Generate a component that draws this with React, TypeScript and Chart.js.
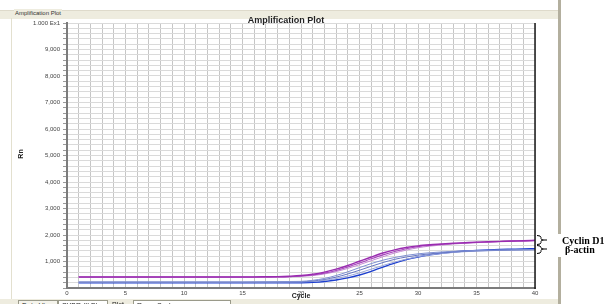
import React, { useEffect, useRef } from "react";
import { Chart, registerables } from "chart.js";

Chart.register(...registerables);

// ---- data (Rn values per cycle) ----
const cycles = [1, 2, 3, 4, 5, 6, 7, 8, 9, 10, 11, 12, 13, 14, 15, 16, 17, 18, 19, 20, 21, 22, 23, 24, 25, 26, 27, 28, 29, 30, 31, 32, 33, 34, 35, 36, 37, 38, 39, 40];

const cyclinD1_1 = [0.42, 0.42, 0.42, 0.42, 0.42, 0.42, 0.42, 0.42, 0.42, 0.42, 0.42, 0.42, 0.42, 0.42, 0.42, 0.42, 0.425, 0.43, 0.445, 0.47, 0.52, 0.6, 0.71, 0.85, 1.01, 1.17, 1.32, 1.44, 1.53, 1.59, 1.63, 1.66, 1.69, 1.71, 1.73, 1.745, 1.76, 1.775, 1.785, 1.8];
const cyclinD1_2 = [0.41, 0.41, 0.41, 0.41, 0.41, 0.41, 0.41, 0.41, 0.41, 0.41, 0.41, 0.41, 0.41, 0.41, 0.41, 0.41, 0.415, 0.42, 0.43, 0.45, 0.49, 0.56, 0.66, 0.79, 0.94, 1.1, 1.25, 1.38, 1.48, 1.56, 1.61, 1.65, 1.68, 1.7, 1.72, 1.74, 1.755, 1.77, 1.78, 1.79];
const cyclinD1_3 = [0.4, 0.4, 0.4, 0.4, 0.4, 0.4, 0.4, 0.4, 0.4, 0.4, 0.4, 0.4, 0.4, 0.4, 0.4, 0.4, 0.405, 0.41, 0.42, 0.44, 0.47, 0.53, 0.62, 0.74, 0.88, 1.03, 1.18, 1.32, 1.43, 1.52, 1.58, 1.62, 1.66, 1.69, 1.71, 1.73, 1.745, 1.76, 1.77, 1.78];

const bActin_1 = [0.23, 0.23, 0.23, 0.23, 0.23, 0.23, 0.23, 0.23, 0.23, 0.23, 0.23, 0.23, 0.23, 0.23, 0.23, 0.235, 0.235, 0.24, 0.245, 0.25, 0.29, 0.36, 0.47, 0.61, 0.77, 0.92, 1.05, 1.15, 1.23, 1.29, 1.33, 1.36, 1.385, 1.4, 1.415, 1.425, 1.435, 1.44, 1.445, 1.45];
const bActin_2 = [0.22, 0.22, 0.22, 0.22, 0.22, 0.22, 0.22, 0.22, 0.22, 0.22, 0.22, 0.22, 0.22, 0.22, 0.22, 0.22, 0.225, 0.225, 0.23, 0.235, 0.265, 0.32, 0.41, 0.53, 0.67, 0.82, 0.96, 1.08, 1.17, 1.24, 1.29, 1.33, 1.36, 1.385, 1.4, 1.415, 1.425, 1.435, 1.44, 1.445];
const bActin_3 = [0.21, 0.21, 0.21, 0.21, 0.21, 0.21, 0.21, 0.21, 0.21, 0.21, 0.21, 0.21, 0.21, 0.21, 0.21, 0.21, 0.215, 0.215, 0.22, 0.225, 0.245, 0.285, 0.355, 0.45, 0.57, 0.71, 0.85, 0.98, 1.09, 1.18, 1.25, 1.3, 1.34, 1.37, 1.39, 1.405, 1.42, 1.43, 1.44, 1.445];
const bActin_4 = [0.2, 0.2, 0.2, 0.2, 0.2, 0.2, 0.2, 0.2, 0.2, 0.2, 0.2, 0.2, 0.2, 0.2, 0.2, 0.2, 0.2, 0.2, 0.2, 0.2, 0.215, 0.245, 0.3, 0.38, 0.49, 0.63, 0.79, 0.94, 1.07, 1.17, 1.25, 1.31, 1.36, 1.395, 1.42, 1.44, 1.455, 1.465, 1.475, 1.48];

const yTickValues = [1, 2, 3, 4, 5, 6, 7, 8, 9, 10];
const yTickLabels = ["1,000", "2,000", "3,000", "4,000", "5,000", "6,000", "7,000", "8,000", "9,000", "1.000 Ex1"];
const xTickValues = [0, 5, 10, 15, 20, 25, 30, 35, 40];

const seriesList = [
  { name: "Cyclin D1 a", values: cyclinD1_1, color: "#9a2cb0", width: 1.4 },
  { name: "Cyclin D1 b", values: cyclinD1_2, color: "#a845bd", width: 1.1 },
  { name: "Cyclin D1 c", values: cyclinD1_3, color: "#c58ad3", width: 1 },
  { name: "beta-actin a", values: bActin_1, color: "#7f90d2", width: 1 },
  { name: "beta-actin b", values: bActin_2, color: "#6676c2", width: 1 },
  { name: "beta-actin c", values: bActin_3, color: "#9aa6da", width: 1 },
  { name: "beta-actin d", values: bActin_4, color: "#1c3ed0", width: 1.4 },
];

const rightBorder = {
  id: "rightBorder",
  afterDatasetsDraw(chart: any) {
    const { ctx, chartArea } = chart;
    ctx.save();
    ctx.strokeStyle = "#1a1a1a";
    ctx.lineWidth = 1.5;
    ctx.beginPath();
    ctx.moveTo(chartArea.right, chartArea.top);
    ctx.lineTo(chartArea.right, chartArea.bottom + 1);
    ctx.stroke();
    ctx.restore();
  },
};

const bracePath = (x0: number, y0: number, y1: number, m: number) => {
  const xm = x0 + 4;
  return `M ${x0} ${y0} Q ${xm} ${y0} ${xm} ${y0 + 2} L ${xm} ${m - 1.5} Q ${xm} ${m} ${xm + 2.5} ${m} Q ${xm} ${m} ${xm} ${m + 1.5} L ${xm} ${y1 - 2} Q ${xm} ${y1} ${x0} ${y1} M ${xm + 2.5} ${m} L ${x0 + 10} ${m}`;
};

export default function App() {
  const canvasRef = useRef<HTMLCanvasElement | null>(null);

  useEffect(() => {
    document.body.style.margin = "0";
    const canvas = canvasRef.current;
    if (!canvas) return;
    const tickFont = { family: "'Liberation Sans', Arial, sans-serif", size: 6 };
    const chart = new Chart(canvas, {
      type: "line",
      data: {
        datasets: seriesList.map((s) => ({
          label: s.name,
          data: cycles.map((c, i) => ({ x: c, y: s.values[i] })),
          borderColor: s.color,
          borderWidth: s.width,
          pointRadius: 0,
          fill: false,
          tension: 0.4,
          cubicInterpolationMode: "monotone" as const,
        })),
      },
      options: {
        responsive: false,
        maintainAspectRatio: false,
        animation: false,
        layout: { padding: { left: 0, right: 76, top: 23, bottom: 6 } },
        plugins: { legend: { display: false }, tooltip: { enabled: false }, title: { display: false } },
        scales: {
          x: {
            type: "linear",
            min: 0,
            max: 40,
            afterFit: (s: any) => {
              s.height = 10;
            },
            border: { color: "#7c7c7c", width: 2 },
            grid: { color: "#c6c6c6", lineWidth: 1, drawTicks: false },
            ticks: {
              stepSize: 1,
              maxTicksLimit: 100,
              autoSkip: false,
              maxRotation: 0,
              padding: 2,
              color: "#444",
              font: tickFont,
              callback: (v: any) => (xTickValues.includes(Math.round(Number(v))) && Math.abs(Number(v) - Math.round(Number(v))) < 1e-6 ? String(Math.round(Number(v))) : ""),
            },
          },
          y: {
            type: "linear",
            min: 0,
            max: 10,
            afterFit: (s: any) => {
              s.width = 67;
            },
            border: { color: "#7c7c7c", width: 2 },
            grid: { color: "#dadada", lineWidth: 1, tickLength: 4, tickColor: "#9a9a9a" },
            ticks: {
              stepSize: 0.2,
              maxTicksLimit: 100,
              autoSkip: false,
              padding: 3,
              color: "#444",
              font: tickFont,
              callback: (v: any) => {
                const idx = yTickValues.findIndex((t) => Math.abs(t - Number(v)) < 1e-6);
                return idx >= 0 ? yTickLabels[idx] : "";
              },
            },
          },
        },
      },
      plugins: [rightBorder],
    });
    return () => chart.destroy();
  }, []);

  const abs = (o: React.CSSProperties): React.CSSProperties => ({ position: "absolute", ...o });

  return (
    <div style={{ position: "fixed", left: 0, top: 0, width: 611, height: 304, background: "#ffffff", overflow: "hidden" }}>
      {/* window frame pieces */}
      <div style={abs({ left: 0, top: 10, width: 558, height: 8, background: "#eeecdf", borderTop: "1px solid #dedacb" })} />
      <div style={abs({ left: 11, top: 18, width: 1, height: 281, background: "#e3e0cf" })} />
      <div style={abs({ left: 0, top: 299, width: 558, height: 5, background: "#eeecdf" })} />
      <div style={abs({ left: 558, top: 0, width: 3, height: 304, background: "#b3af9e" })} />
      <div style={abs({ left: 14, top: 9, font: "6px 'Liberation Sans', Arial, sans-serif", color: "#333", background: "#eeecdf", padding: "0 1px", lineHeight: "9px" })}>
        Amplification Plot
      </div>

      <canvas ref={canvasRef} width={611} height={304} style={abs({ left: 0, top: 0, width: 611, height: 304 })} />

      {/* chart title and axis titles */}
      <div style={abs({ left: 186, top: 15, width: 200, textAlign: "center", font: "bold 9px 'Liberation Sans', Arial, sans-serif", color: "#222", lineHeight: "10px" })}>
        Amplification Plot
      </div>
      <div style={abs({ left: 271, top: 292, width: 60, textAlign: "center", font: "bold 7px 'Liberation Sans', Arial, sans-serif", color: "#222", lineHeight: "8px" })}>
        Cycle
      </div>
      <div style={abs({ left: 12, top: 150, width: 18, textAlign: "center", font: "bold 7px 'Liberation Sans', Arial, sans-serif", color: "#222", lineHeight: "8px", transform: "rotate(-90deg)" })}>
        Rn
      </div>

      {/* bottom control bar (clipped) */}
      <div style={abs({ left: 0, top: 299, width: 558, height: 5, overflow: "hidden" })}>
        <div style={abs({ left: 18, top: 1, width: 38, height: 9, border: "1px solid #9a9a8a", background: "#f5f4ec", font: "7px 'Liberation Sans', Arial", color: "#222", lineHeight: "9px", textAlign: "center" })}>Data View</div>
        <div style={abs({ left: 58, top: 1, width: 48, height: 9, border: "1px solid #9a9a8a", background: "#fff", font: "7px 'Liberation Sans', Arial", color: "#222", lineHeight: "9px", textAlign: "center" })}>SYBR (ILB) ▾</div>
        <div style={abs({ left: 112, top: 1, width: 18, height: 9, font: "7px 'Liberation Sans', Arial", color: "#222", lineHeight: "9px" })}>Plot</div>
        <div style={abs({ left: 133, top: 1, width: 93, height: 9, border: "1px solid #9a9a8a", background: "#fff", font: "7px 'Liberation Sans', Arial", color: "#222", lineHeight: "9px", paddingLeft: 3 })}>Rn vs Cycle</div>
      </div>

      {/* braces and gene labels */}
      <svg width={611} height={304} style={abs({ left: 0, top: 0 })}>
        <path d={bracePath(537, 235.5, 244.5, 240)} stroke="#000" strokeWidth={1} fill="none" />
        <path d={bracePath(537, 245.5, 253.5, 249)} stroke="#000" strokeWidth={1} fill="none" />
      </svg>
      <div style={abs({ left: 556, top: 234, width: 8, height: 23, background: "#fff" })} />
      <div style={abs({ left: 562, top: 235, font: "bold 10px 'Liberation Serif', 'Times New Roman', serif", color: "#000", lineHeight: "11px", whiteSpace: "nowrap" })}>
        Cyclin D1
      </div>
      <div style={abs({ left: 565, top: 244, font: "bold 10px 'Liberation Serif', 'Times New Roman', serif", color: "#000", lineHeight: "11px", whiteSpace: "nowrap" })}>
        β-actin
      </div>
    </div>
  );
}
